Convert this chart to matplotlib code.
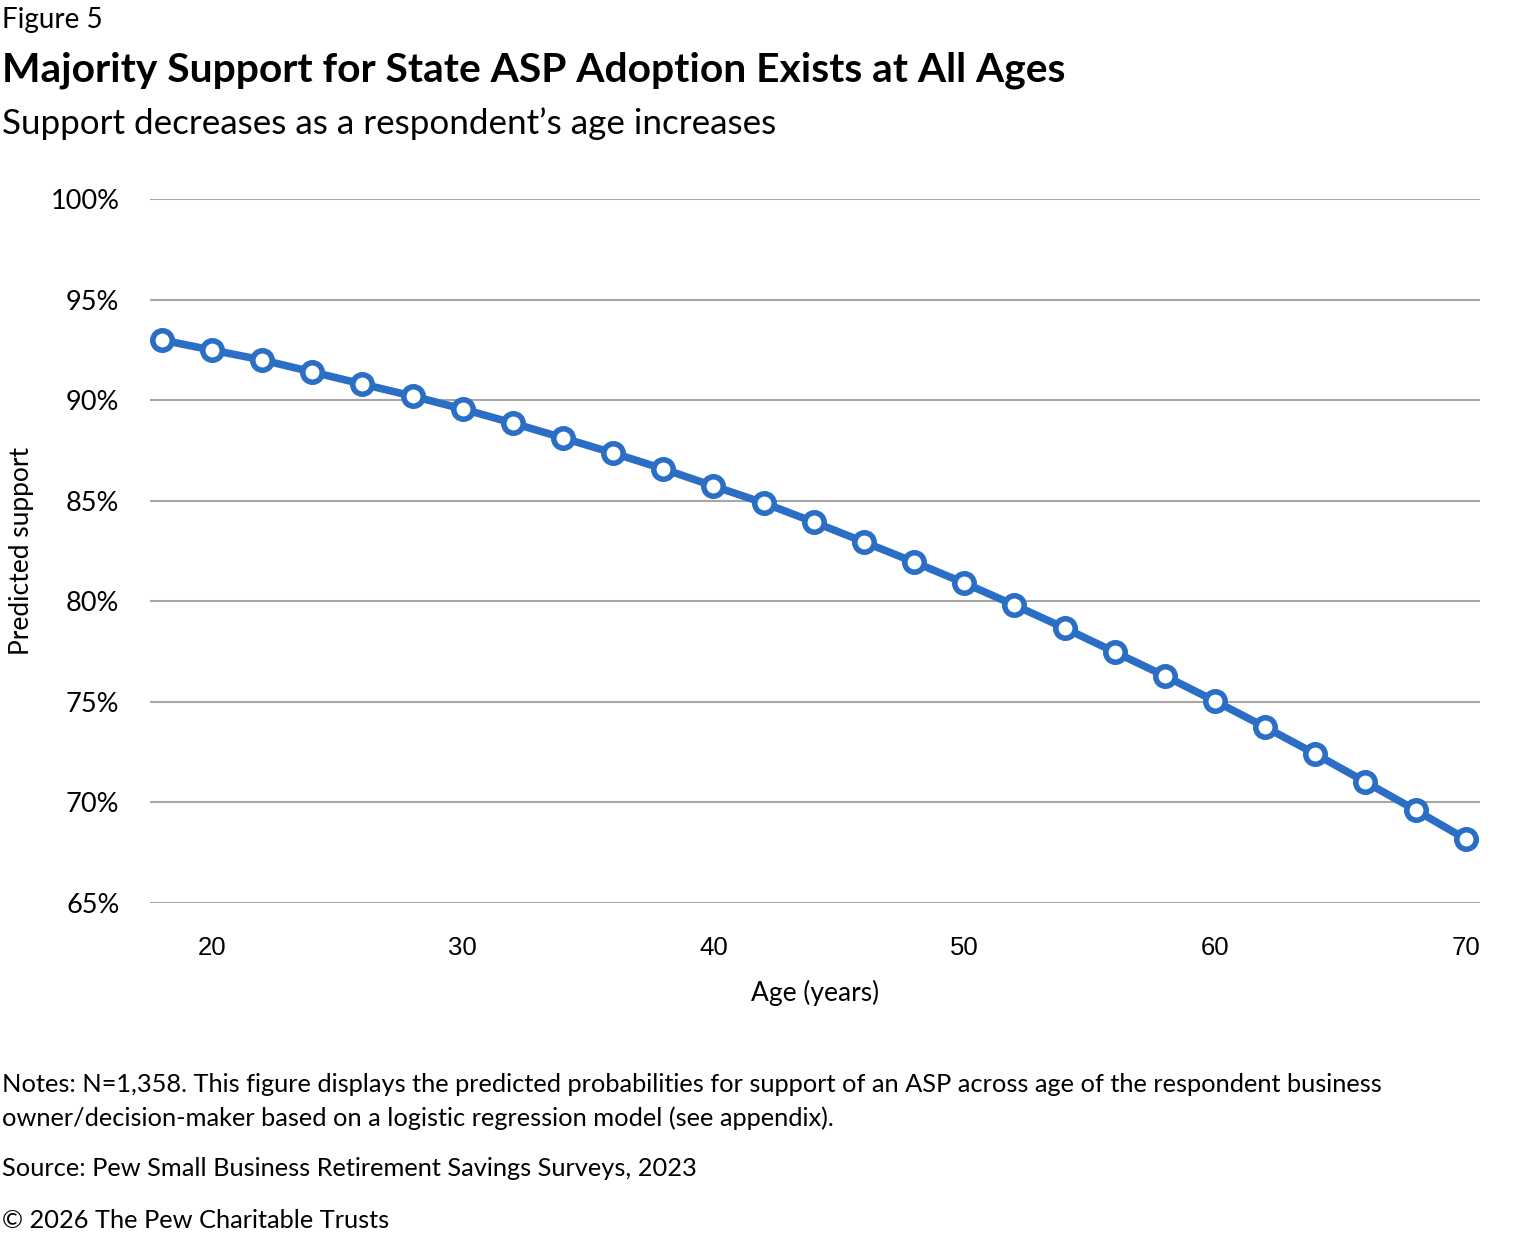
import numpy as np
import matplotlib.pyplot as plt

# data
ages = [18, 20, 22, 24, 26, 28, 30, 32, 34, 36, 38, 40, 42, 44, 46, 48, 50,
        52, 54, 56, 58, 60, 62, 64, 66, 68, 70]
support = [92.99, 92.49, 92.0, 91.4, 90.8, 90.2, 89.56, 88.86, 88.12, 87.37,
           86.58, 85.73, 84.89, 83.94, 82.95, 81.95, 80.91, 79.81, 78.67,
           77.48, 76.29, 75.04, 73.75, 72.41, 71.02, 69.62, 68.18]
y_ticks = [65, 70, 75, 80, 85, 90, 95, 100]
x_ticks = [20, 30, 40, 50, 60, 70]

W, H = 1520, 1238
fig = plt.figure(figsize=(W / 100, H / 100), dpi=100)
plt.rcParams['font.family'] = ['Lato', 'DejaVu Sans']

# axes placed in pixel units
left, right, top, bottom = 150, 1480, 199, 903
ax = fig.add_axes([left / W, 1 - bottom / H, (right - left) / W, (bottom - top) / H])

blue = '#2a6ec6'
ax.plot(ages, support, color=blue, linewidth=5.5, marker='o', markersize=14,
        markerfacecolor='white', markeredgecolor=blue, markeredgewidth=4,
        solid_capstyle='round', zorder=3)

ax.set_xlim(17.53, 70.57)
ax.set_ylim(65, 100)
ax.set_yticks(y_ticks)
ax.set_yticklabels([f"{t}%" for t in y_ticks], fontsize=19.5)
ax.set_xticks(x_ticks)
ax.set_xticklabels([str(t) for t in x_ticks], fontsize=18.5, family=['Liberation Sans'])
ax.tick_params(axis='both', length=0)
ax.tick_params(axis='y', pad=22)
ax.tick_params(axis='x', pad=24)
ax.grid(axis='y', color='#a6a6a6', linewidth=1.5)
ax.set_axisbelow(True)
for s in ax.spines.values():
    s.set_visible(False)

ax.set_xlabel("Age (years)", fontsize=19, labelpad=14)
fig.text(22 / W, 1 - 551 / H, "Predicted support", rotation=90, fontsize=19,
         ha='center', va='center')

# titles
fig.text(2 / W, 1 - 20 / H, "Figure 5", fontsize=20, va='center')
fig.text(2 / W, 1 - 70 / H, "Majority Support for State ASP Adoption Exists at All Ages",
         fontsize=29.3, fontweight='bold', va='center')
fig.text(2 / W, 1 - 124 / H, "Support decreases as a respondent\u2019s age increases",
         fontsize=25.2, va='center')

# notes
note_fs = 18.3
fig.text(2 / W, 1 - 1085 / H,
         "Notes: N=1,358. This figure displays the predicted probabilities for support of an ASP across age of the respondent business",
         fontsize=note_fs, va='center')
fig.text(2 / W, 1 - 1118 / H,
         "owner/decision-maker based on a logistic regression model (see appendix).",
         fontsize=note_fs, va='center')
fig.text(2 / W, 1 - 1169 / H, "Source: Pew Small Business Retirement Savings Surveys, 2023",
         fontsize=note_fs, va='center')
fig.text(2 / W, 1 - 1221 / H, "\u00a9 2026 The Pew Charitable Trusts",
         fontsize=note_fs, va='center')

fig.savefig("out.png", dpi=100)
